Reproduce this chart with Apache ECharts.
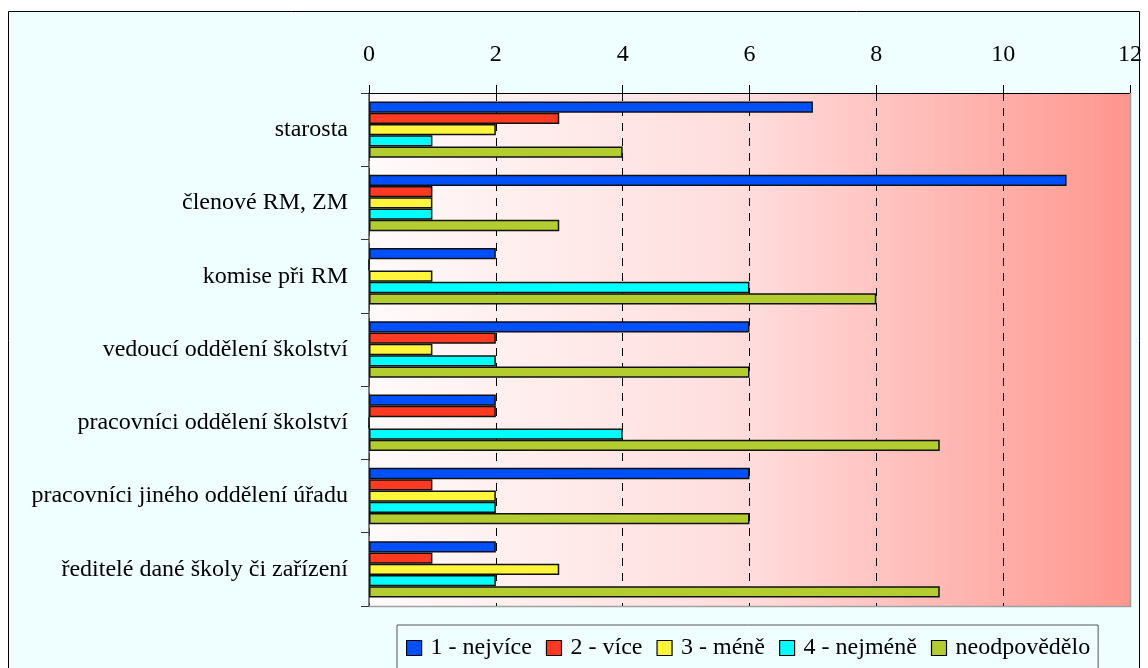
<!DOCTYPE html>
<html>
<head>
<meta charset="utf-8">
<script src="https://cdn.jsdelivr.net/npm/echarts@6/dist/echarts.min.js"></script>
<style>
  html, body { margin: 0; padding: 0; background: #ffffff; }
  #chart { width: 1148px; height: 668px; }
</style>
</head>
<body>
<div id="chart"></div>
<script>
// Respondent groups (top to bottom)
const categories = [
  'starosta',
  'členové RM, ZM',
  'komise při RM',
  'vedoucí oddělení školství',
  'pracovníci oddělení školství',
  'pracovníci jiného oddělení úřadu',
  'ředitelé dané školy či zařízení'
];

const seriesNames = ['1 - nejvíce', '2 - více', '3 - méně', '4 - nejméně', 'neodpovědělo'];

const nejvice      = [7, 11, 2, 6, 2, 6, 2];
const vice         = [3, 1, 0, 2, 2, 1, 1];
const mene         = [2, 1, 1, 1, 0, 2, 3];
const nejmene      = [1, 1, 6, 2, 4, 2, 2];
const neodpovedelo = [4, 3, 8, 6, 9, 6, 9];

const xTicks = [0, 2, 4, 6, 8, 10, 12];

const seriesValues = [nejvice, vice, mene, nejmene, neodpovedelo];
const seriesColors = ['#0050ff', '#ff3a22', '#fff53a', '#00ffff', '#b3cc30'];

const font = '"Liberation Serif", "Times New Roman", serif';
const fontSize = 24;

const chart = echarts.init(document.getElementById('chart'));

chart.setOption({
  backgroundColor: '#ffffff',
  animation: false,
  textStyle: { fontFamily: font },
  graphic: [
    {
      type: 'rect',
      z: -10,
      shape: { x: 8.5, y: 11.5, width: 1131, height: 670 },
      style: { fill: '#efffff', stroke: '#000000', lineWidth: 1 }
    },
    {
      // right and bottom edges of the plot area
      type: 'polyline',
      z: 5,
      shape: { points: [[1130.5, 93], [1130.5, 606.5], [369, 606.5]] },
      style: { fill: null, stroke: '#a0a0a0', lineWidth: 1.5 }
    }
  ],
  grid: {
    left: 369, top: 93, right: 18, bottom: 62,
    show: true,
    borderWidth: 0,
    backgroundColor: new echarts.graphic.LinearGradient(0, 0, 1, 0, [
      { offset: 0, color: '#fffafa' },
      { offset: 0.5, color: '#ffdcdc' },
      { offset: 1, color: '#ff968e' }
    ])
  },
  legend: {
    data: seriesNames,
    top: 625,
    left: 397,
    itemWidth: 15,
    itemHeight: 15,
    itemGap: 14,
    padding: [11, 8, 20, 9],
    borderColor: '#555555',
    borderWidth: 1,
    icon: 'rect',
    itemStyle: { borderColor: '#000000', borderWidth: 1.2 },
    textStyle: { fontFamily: font, fontSize: fontSize, color: '#000000', padding: [0, 0, 0, 4] }
  },
  xAxis: {
    type: 'value',
    position: 'top',
    min: 0, max: 12, interval: 2,
    axisLine: { show: true, lineStyle: { color: '#000000', width: 1 } },
    axisTick: { show: true, length: 8, inside: false, lineStyle: { color: '#000000' } },
    axisLabel: {
      fontFamily: font, fontSize: fontSize, color: '#000000', margin: 26,
      formatter: v => (xTicks.includes(v) ? String(v) : '')
    },
    splitLine: { show: true, lineStyle: { color: '#000000', type: [8, 7], width: 1 } }
  },
  yAxis: {
    type: 'category',
    data: categories,
    inverse: true,
    axisLine: { show: true, lineStyle: { color: '#555555', width: 1.5 } },
    axisTick: { show: true, length: 8, lineStyle: { color: '#333333' } },
    axisLabel: { fontFamily: font, fontSize: fontSize, color: '#000000', margin: 21 }
  },
  series: seriesNames.map((name, i) => ({
    name,
    type: 'bar',
    data: seriesValues[i],
    barGap: '0%',
    barCategoryGap: '23%',
    itemStyle: { color: seriesColors[i], borderColor: '#111111', borderWidth: 1.5 }
  }))
});
</script>
</body>
</html>
